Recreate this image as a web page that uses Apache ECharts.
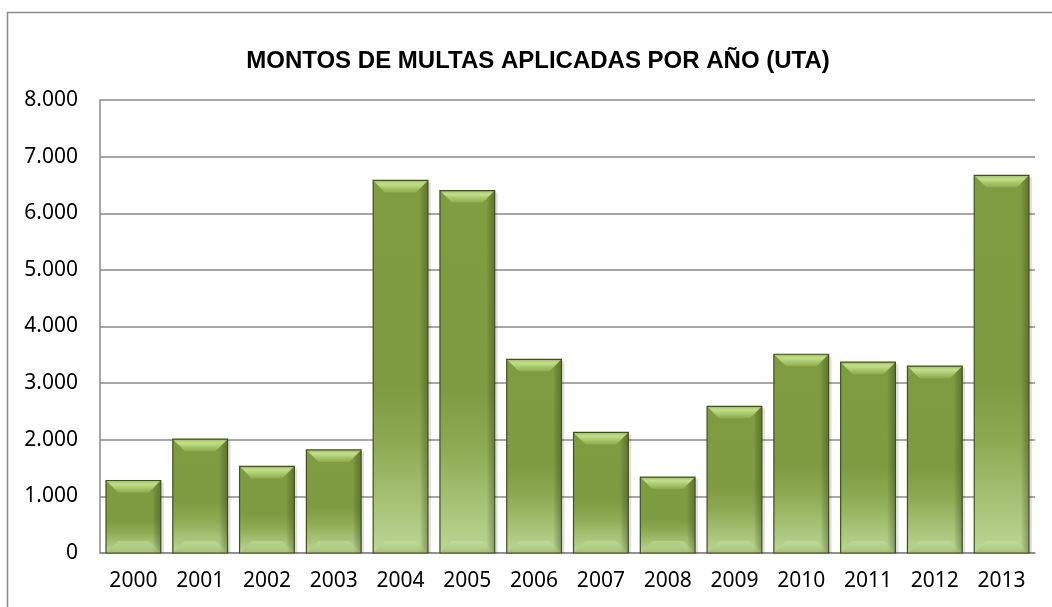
<!DOCTYPE html>
<html><head><meta charset="utf-8">
<script src="https://cdn.jsdelivr.net/npm/echarts@6/dist/echarts.min.js"></script>
<style>html,body{margin:0;padding:0;background:#fff}#c{width:1052px;height:607px}</style>
</head><body><div id="c"></div>
<script>
const titleText = 'MONTOS DE MULTAS APLICADAS POR AÑO (UTA)';
const years = ['2000','2001','2002','2003','2004','2005','2006','2007','2008','2009','2010','2011','2012','2013'];
const montos = [1280, 2010, 1530, 1820, 6580, 6400, 3420, 2130, 1340, 2590, 3510, 3370, 3300, 6670];
const yTicks = [0, 1000, 2000, 3000, 4000, 5000, 6000, 7000, 8000];

const chart = echarts.init(document.getElementById('c'));
function fmt(v){ return v === 0 ? '0' : (v/1000).toFixed(3); }

function renderItem(params, api){
  const x = api.value(0), v = api.value(1);
  const top = api.coord([x, v]);
  const base = api.coord([x, 0]);
  const bw = api.size([1, 0])[0] * 0.82;
  const x0 = top[0] - bw/2, x1 = top[0] + bw/2;
  const y0 = top[1], y1 = base[1];
  const h = y1 - y0;
  const b = Math.min(12, h/3);
  return {
    type: 'group',
    children: [
      { type: 'rect', shape: {x: x0+3, y: y0+2, width: bw, height: h-2},
        style: {fill: 'rgba(0,0,0,0.12)'} },
      { type: 'rect', shape: {x: x0, y: y0, width: bw, height: h},
        style: { fill: new echarts.graphic.LinearGradient(0,0,0,1,[
          {offset:0, color:'#7f9c40'},
          {offset:0.55, color:'#7e9b42'},
          {offset:0.72, color:'#8fac55'},
          {offset:1, color:'#bcd794'}]) } },
      { type: 'rect', shape: {x: x0, y: y0, width: bw, height: h},
        style: { fill: new echarts.graphic.LinearGradient(0,0,1,0,[
          {offset:0, color:'rgba(255,255,255,0.0)'},
          {offset:0.85, color:'rgba(0,0,0,0.0)'},
          {offset:1, color:'rgba(40,55,10,0.35)'}]) } },
      { type: 'polygon', shape: {points: [[x0,y0],[x1,y0],[x1-b,y0+b],[x0+b,y0+b]]},
        style: { fill: new echarts.graphic.LinearGradient(0,0,0,1,[
          {offset:0, color:'#9fbd5e'},{offset:0.3, color:'#c2e08a'},{offset:1, color:'#8eab4c'}]) } },
      { type: 'polygon', shape: {points: [[x0,y1],[x1,y1],[x1-b,y1-b],[x0+b,y1-b]]},
        style: { fill: new echarts.graphic.LinearGradient(0,0,0,1,[
          {offset:0, color:'rgba(205,228,165,0.45)'},{offset:1, color:'rgba(150,180,100,0.6)'}]) } },
      { type: 'rect', shape: {x: x0, y: y0, width: bw, height: h},
        style: { fill: 'none', stroke: '#3f5020', lineWidth: 1.2 } }
    ]
  };
}

chart.setOption({
  animation: false,
  title: { text: titleText, left: 533, top: 44, textAlign: 'center',
    textStyle: { fontFamily: 'Liberation Sans', fontSize: 24, fontWeight: 'bold', color: '#000' } },
  graphic: [{ type: 'rect', left: 5, top: 10, shape: {width: 1100, height: 650},
    style: { fill: 'none', stroke: '#8a8a8a', lineWidth: 1.5 }, z: -1 }],
  grid: { left: 100, right: 17, top: 100, bottom: 54 },
  xAxis: { type: 'category', data: years,
    axisLine: { lineStyle: { color: '#8a8a8a', width: 1.5 } },
    axisTick: { show: false },
    axisLabel: { color: '#000', fontSize: 21, fontFamily: 'Noto Sans', margin: 18 } },
  yAxis: { type: 'value', min: 0, max: 8000, interval: 1000,
    axisLine: { show: true, lineStyle: { color: '#8a8a8a', width: 1.5 } },
    axisTick: { show: false },
    splitLine: { lineStyle: { color: '#8a8a8a', width: 1.5 } },
    axisLabel: { color: '#000', fontSize: 21, fontFamily: 'Noto Sans', margin: 22,
      formatter: v => yTicks.includes(v) ? fmt(v) : '' } },
  series: [{ type: 'custom', renderItem: renderItem,
    data: montos.map((v,i) => [i, v]), encode: { x: 0, y: 1 } }]
});
</script></body></html>
